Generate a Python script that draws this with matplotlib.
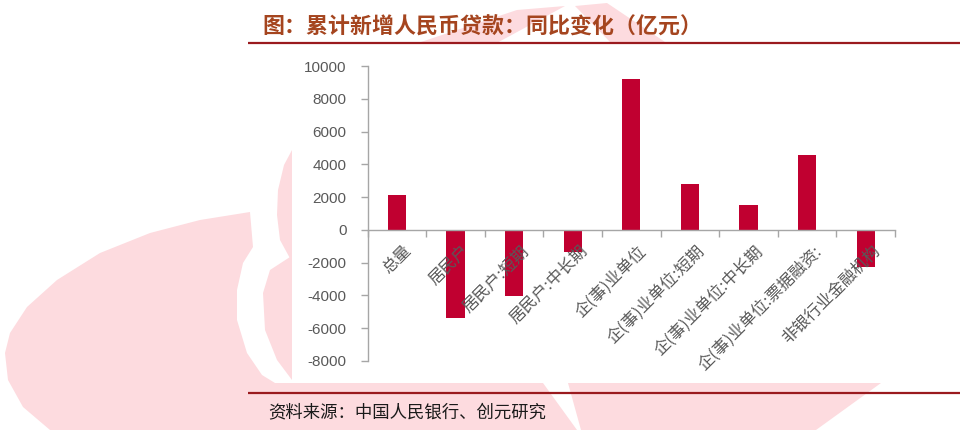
import matplotlib
matplotlib.use("Agg")
import matplotlib.pyplot as plt
from matplotlib.patches import Polygon, Rectangle
from matplotlib.transforms import ScaledTranslation
import numpy as np

# ---------------- data ----------------
categories = ["总量", "居民户", "居民户:短期", "居民户:中长期", "企(事)业单位",
              "企(事)业单位:短期", "企(事)业单位:中长期", "企(事)业单位:票据融资:",
              "非银行业金融机构"]
values = [2100, -5370, -4020, -1340, 9200, 2800, 1500, 4580, -2270]
yticks = [-8000, -6000, -4000, -2000, 0, 2000, 4000, 6000, 8000, 10000]
title = "图：累计新增人民币贷款：同比变化（亿元）"
source = "资料来源：中国人民银行、创元研究"

W, H = 966, 437
fig = plt.figure(figsize=(W / 100, H / 100), dpi=100)

# ---------------- background watermark ----------------
bg = fig.add_axes([0, 0, 1, 1], zorder=0)
bg.set_xlim(0, W)
bg.set_ylim(H, 0)
bg.axis("off")
pink = "#FDDBDF"

big = [(250, 212), (292, 212), (292, 383), (543, 383), (577, 430), (50, 430),
       (23, 407), (8, 380), (5, 353), (10, 333), (27, 307), (57, 280),
       (100, 253), (150, 233), (200, 220)]
bg.add_patch(Polygon(big, closed=True, fc=pink, ec="none"))
crescent = [(250, 212), (253, 247), (243, 263), (237, 290), (237, 320), (247, 353),
            (262, 375), (275, 383), (292, 383), (292, 380), (277, 360), (265, 330),
            (263, 293), (270, 270), (290, 257), (292, 257), (292, 205), (250, 205)]
bg.add_patch(Polygon(crescent, closed=True, fc="white", ec="none"))
bulb = [(292, 150), (284, 165), (278, 190), (277, 215), (280, 240), (292, 262)]
bg.add_patch(Polygon(bulb, closed=True, fc=pink, ec="none"))
bottom_right = [(568, 383), (881, 383), (816, 430), (581, 430)]
bg.add_patch(Polygon(bottom_right, closed=True, fc=pink, ec="none"))
top_left_leg = [(517, 10), (565, 6), (495, 44), (415, 44)]
top_right_leg = [(575, 6), (607, 3), (668, 44), (612, 44)]
bg.add_patch(Polygon(top_left_leg, closed=True, fc=pink, ec="none"))
bg.add_patch(Polygon(top_right_leg, closed=True, fc=pink, ec="none"))
# white chart area
bg.add_patch(Rectangle((292, 45), W - 292, 383 - 45, fc="white", ec="none"))

# header / footer lines
line_col = "#9A1A1E"
bg.plot([248, 960], [43, 43], color=line_col, lw=1.6, solid_capstyle="butt")
bg.plot([248, 960], [393, 393], color=line_col, lw=1.6, solid_capstyle="butt")

fig.text(262 / W, 1 - 27 / H, title, family=["Noto Sans CJK SC", "DejaVu Sans"],
         fontweight="bold", fontsize=15.8, color="#A5451F", ha="left", va="center")
fig.text(268 / W, 1 - 412 / H, source, family=["Noto Sans CJK SC", "DejaVu Sans"],
         fontsize=12.5, color="#1A1A1A", ha="left", va="center")

# ---------------- main chart ----------------
left, right, top, bottom = 367.5, 895, 66, 361
ax = fig.add_axes([left / W, 1 - bottom / H, (right - left) / W, (bottom - top) / H], zorder=2)
ax.patch.set_alpha(0)

x = np.arange(len(categories))
ax.bar(x, values, width=0.31, color="#C00030", zorder=1.5)

ax.set_xlim(-0.5, len(categories) - 0.5)
ax.set_ylim(-8000, 10000)

grey = "#A6A6A6"
for s in ["top", "right"]:
    ax.spines[s].set_visible(False)
ax.spines["left"].set_color(grey)
ax.spines["bottom"].set_color(grey)
ax.spines["bottom"].set_position(("data", 0))
ax.spines["left"].set_linewidth(1.0)
ax.spines["bottom"].set_linewidth(1.0)
ax.spines["bottom"].set_zorder(4)

ax.set_yticks(yticks)
ax.set_yticklabels([str(v) for v in yticks], family="Liberation Sans", fontsize=11,
                   color="#595959")
ax.tick_params(axis="y", direction="out", length=5, width=1, color=grey, pad=10)

ax.set_xticks(np.arange(-0.5, len(categories), 1.0))
ax.set_xticklabels([])
ax.tick_params(axis="x", which="major", direction="out", length=5, width=1, color=grey)
ax.set_xticks(x, minor=True)
ax.set_xticklabels(categories, minor=True, rotation=45, ha="right", va="top",
                   rotation_mode="anchor", family=["Noto Sans CJK SC", "DejaVu Sans"],
                   fontsize=11.8, color="#595959")
ax.tick_params(axis="x", which="minor", length=0, pad=9)
shift = ScaledTranslation(6 / 100, 0, fig.dpi_scale_trans)
for lab in ax.get_xticklabels(minor=True):
    lab.set_transform(lab.get_transform() + shift)

fig.savefig("out.png", dpi=100)
